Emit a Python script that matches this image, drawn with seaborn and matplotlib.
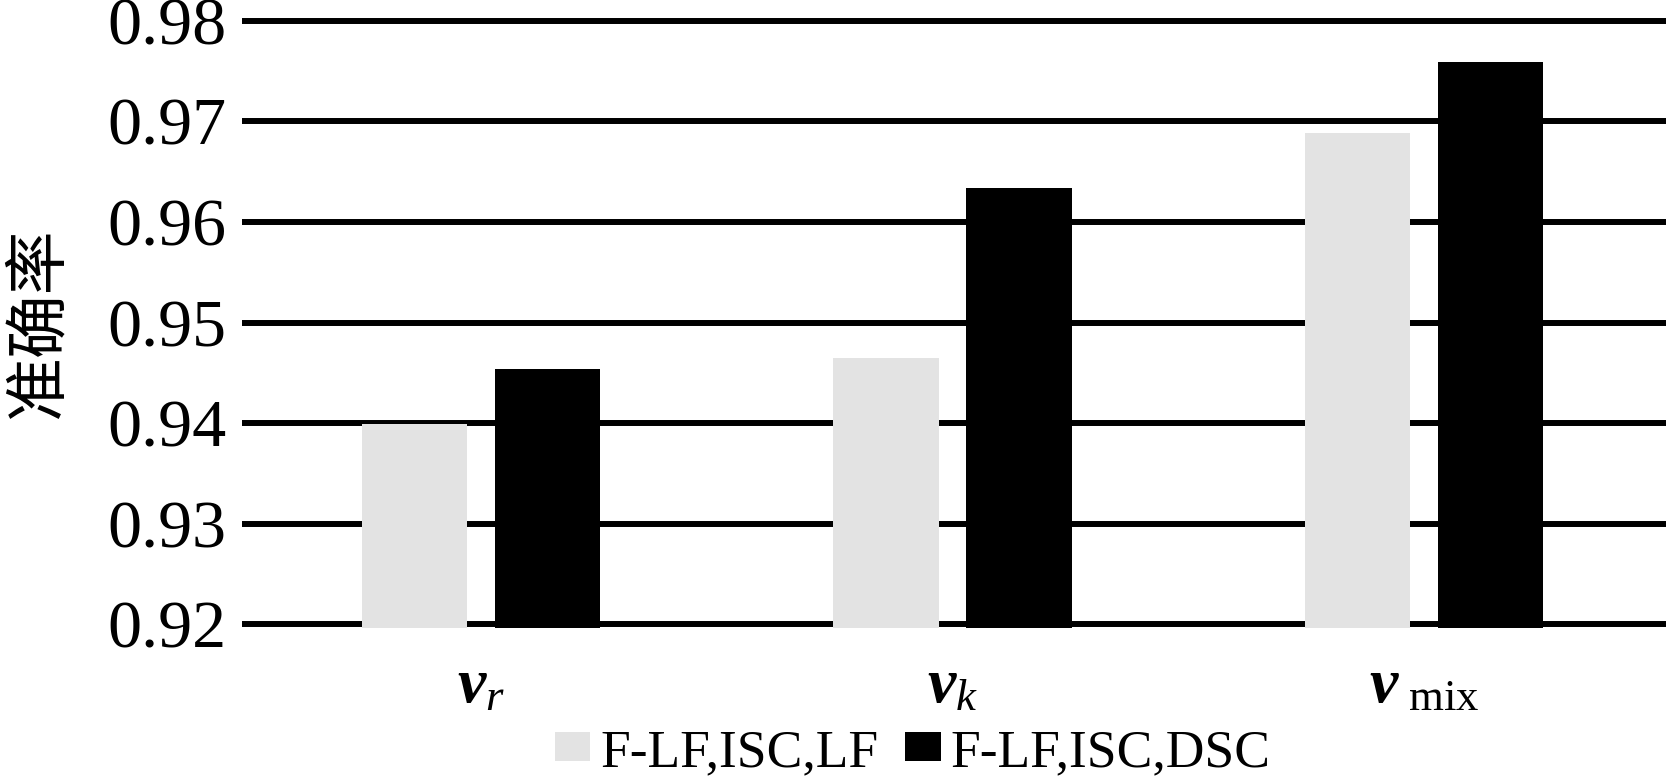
import matplotlib
matplotlib.use("Agg")
import matplotlib.pyplot as plt
import seaborn as sns
import pandas as pd

scenarios = [r"$\mathbfit{v}_{r}$", r"$\mathbfit{v}_{k}$", r"$\mathbfit{v}_{\ \mathrm{mix}}$"]
methods = ["F-LF,ISC,LF", "F-LF,ISC,DSC"]
lf_acc = [0.9399, 0.9465, 0.9688]
dsc_acc = [0.9454, 0.9634, 0.9759]
yticks = [0.92, 0.93, 0.94, 0.95, 0.96, 0.97, 0.98]

df = pd.DataFrame({
    "scenario": scenarios * 2,
    "method": [methods[0]] * 3 + [methods[1]] * 3,
    "accuracy": lf_acc + dsc_acc,
})

sns.set_theme(style="white")
plt.rcParams["font.family"] = ["Liberation Serif", "Noto Sans CJK SC"]
plt.rcParams["mathtext.fontset"] = "custom"
plt.rcParams["mathtext.rm"] = "Liberation Serif"
plt.rcParams["mathtext.it"] = "Liberation Serif:italic"
plt.rcParams["mathtext.bfit"] = "Liberation Serif:italic:bold"
for key in ["text.color", "axes.labelcolor", "xtick.color", "ytick.color"]:
    plt.rcParams[key] = "black"

fig = plt.figure(figsize=(16.66, 7.77), dpi=100)
ax = fig.add_axes([0.145, 0.1924, 0.855, 0.7848])

sns.barplot(
    data=df, x="scenario", y="accuracy", hue="method",
    palette=["#e3e3e3", "#000000"], saturation=1,
    width=0.564, gap=0.21, linewidth=0, ax=ax,
)

ax.set_ylim(0.9197, 0.9803)
ax.set_xlim(-0.5075, 2.513)
ax.set_yticks(yticks)
ax.set_yticklabels([f"{t:.2f}" for t in yticks])
ax.set_axisbelow(True)
ax.yaxis.grid(True, color="black", linewidth=4.3)
ax.xaxis.grid(False)
sns.despine(ax=ax, left=True, bottom=True)
ax.tick_params(axis="y", length=0, labelsize=49, pad=11)
ax.tick_params(axis="x", length=0, labelsize=46, pad=22)

ax.set_xlabel("")
ax.set_ylabel("准确率", fontsize=46, family=["Noto Sans CJK SC", "DejaVu Sans"],
              va="center", ha="center")
ax.yaxis.set_label_coords(-0.143, 0.5)

ax.legend(
    loc="center", bbox_to_anchor=(0.548, 0.031), bbox_transform=fig.transFigure,
    ncol=2, frameon=False, fontsize=38.5, handlelength=0.66, handleheight=0.46,
    handletextpad=0.19, columnspacing=0.5, borderpad=0, borderaxespad=0,
)

fig.savefig("out.png", dpi=100)
